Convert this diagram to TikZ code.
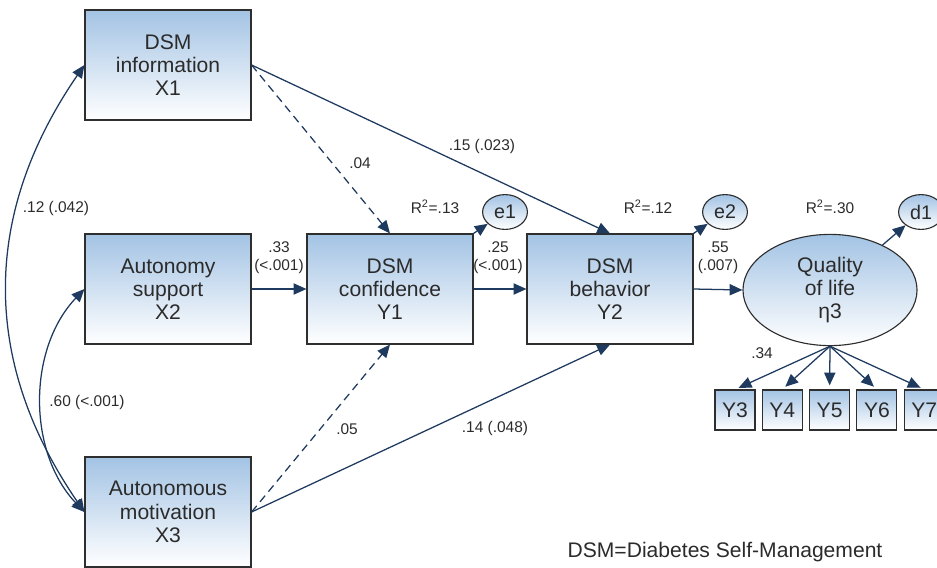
\documentclass[tikz,border=0pt]{standalone}
\usepackage{fontspec}
\setmainfont{Liberation Sans}
\usetikzlibrary{arrows.meta,positioning,shapes.geometric}
\definecolor{navy}{HTML}{1F3A5F}
\definecolor{boxblue}{HTML}{A3C3E4}
\definecolor{boxline}{HTML}{2E2E2E}
\definecolor{labgray}{HTML}{2B2B2B}

\begin{document}
\begin{tikzpicture}[x=0.025cm,y=-0.025cm,
  var/.style={draw=boxline,line width=0.8pt,top color=boxblue,bottom color=white,
    minimum width=4.15cm,minimum height=2.75cm,align=center,inner sep=2pt,
    text=labgray,font=\fontsize{15}{16.5}\selectfont},
  ind/.style={draw=boxline,line width=0.8pt,top color=boxblue,bottom color=white,
    minimum width=1cm,minimum height=1cm,inner sep=1pt,
    text=labgray,font=\fontsize{15}{16.5}\selectfont},
  err/.style={ellipse,draw=boxline,line width=0.8pt,top color=boxblue,bottom color=white,
    minimum width=1.12cm,minimum height=0.87cm,inner sep=0pt,
    text=labgray,font=\fontsize{14}{16}\selectfont},
  lat/.style={ellipse,draw=boxline,line width=0.8pt,top color=boxblue,bottom color=white,
    minimum width=4.35cm,minimum height=2.78cm,align=center,inner sep=0pt,
    text=labgray,font=\fontsize{15}{16.5}\selectfont},
  lab/.style={align=center,inner sep=1pt,text=labgray,font=\fontsize{11}{13}\selectfont},
  a/.style={-{Triangle[length=3.2mm,width=2.8mm]},line width=0.9pt,navy},
  dsh/.style={a,dash pattern=on 2mm off 1.3mm},
  dbl/.style={{Triangle[length=3.2mm,width=2.8mm]}-{Triangle[length=3.2mm,width=2.8mm]},
    line width=0.9pt,navy}]
\useasboundingbox (0,0) rectangle (937,567);
% observed variables
\node[var] (x1) at (168,65) {DSM\\information\\X1};
\node[var] (x2) at (168,289) {Autonomy\\support\\X2};
\node[var] (x3) at (168,512) {Autonomous\\motivation\\X3};
\node[var] (y1) at (390,289) {DSM\\confidence\\Y1};
\node[var] (y2) at (610,289) {DSM\\behavior\\Y2};
\node[lat] (q) at (830,290) {Quality\\of life\\η3};
\node[err] (e1) at (505,212) {e1};
\node[err] (e2) at (725,212) {e2};
\node[err] (d1) at (921,212) {d1};
\foreach \i [count=\k from 0] in {3,...,7}
  \node[ind] (y\i) at (735+47.3*\k,410) {Y\i};
% paths
\draw[dsh] (x1.east)--(y1.north); \draw[a] (x1.east)--(y2.north);
\draw[dsh] (x3.east)--(y1.south); \draw[a] (x3.east)--(y2.south);
\draw[a] (x2)--(y1); \draw[a] (y1)--(y2); \draw[a] (y2.east)--(q.west);
\draw[a] (y1.north east)--(e1); \draw[a] (y2.north east)--(e2); \draw[a] (q)--(d1);
\foreach \i in {3,...,7} \draw[a,shorten >=1mm] (q.south)--(y\i.north);
\draw[dbl] (x1.west) .. controls +(-103,150) and +(-103,-150) .. (x3.west);
\draw[dbl] (x2.west) .. controls +(-57,60) and +(-57,-60) .. (x3.west);
% labels
\node[lab] (r1) at (435,207) {R\textsuperscript{2}=.13};
\node[lab] (r2) at (648,207) {R\textsuperscript{2}=.12};
\node[lab] (r3) at (830,207) {R\textsuperscript{2}=.30};
\node[lab] (l1) at (360,163) {.04};
\node[lab] (l2) at (482,146) {.15 (.023)};
\node[lab] (l3) at (279,258) {.33\\(<.001)};
\node[lab] (l4) at (498,258) {.25\\(<.001)};
\node[lab] (l5) at (718,258) {.55\\(.007)};
\node[lab] (l6) at (56,208) {.12 (.042)};
\node[lab] (l7) at (87,402) {.60 (<.001)};
\node[lab] (l8) at (347,429) {.05};
\node[lab] (l9) at (495,428) {.14 (.048)};
\node[lab] (l10) at (762,353) {.34};
\node[text=labgray,font=\fontsize{15}{16.5}\selectfont] (foot) at (725,552) {DSM=Diabetes Self-Management};
\end{tikzpicture}
\end{document}
